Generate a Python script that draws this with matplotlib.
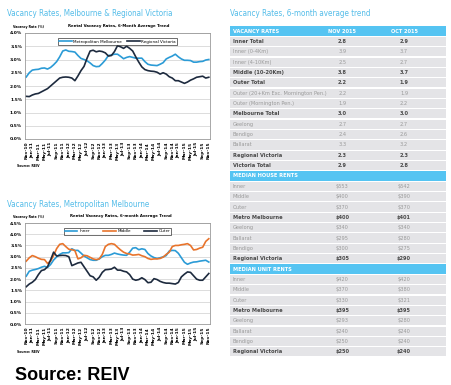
import numpy as np
import pandas as pd
import matplotlib.pyplot as plt
from matplotlib import font_manager as fm

W, H = 452, 385

# monthly points, Nov-10 .. Nov-15
months = pd.date_range('2010-11-01', periods=61, freq='MS')
month_labels = [m.strftime('%b-%y') for m in months]

metro = [2.34, 2.5, 2.6, 2.62, 2.63, 2.67, 2.68, 2.64, 2.7, 2.8,
         2.92, 3.1, 3.32, 3.36, 3.31, 3.3, 3.28, 3.15, 3.04, 3.0,
         2.95, 2.87, 2.77, 2.73, 2.74, 2.85, 2.98, 3.15, 3.17, 3.2,
         3.2, 3.12, 3.03, 3.08, 3.11, 3.08, 3.05, 3.05, 3.05, 2.92,
         2.82, 2.79, 2.78, 2.77, 2.82, 2.88, 3.02, 3.08, 3.13, 3.2,
         3.1, 3.02, 2.97, 2.97, 2.96, 2.9, 2.9, 2.92, 2.93, 2.98, 3.0]
regional = [1.61, 1.6, 1.66, 1.7, 1.72, 1.78, 1.84, 1.9, 2.0, 2.1,
            2.2, 2.3, 2.33, 2.34, 2.33, 2.3, 2.2, 2.38, 2.58, 2.74,
            3.05, 3.32, 3.35, 3.29, 3.32, 3.3, 3.25, 3.13, 3.15, 3.3,
            3.52, 3.48, 3.42, 3.5, 3.42, 3.32, 3.1, 2.9, 2.72, 2.62,
            2.58, 2.56, 2.55, 2.52, 2.45, 2.5, 2.45, 2.35, 2.3, 2.2,
            2.2, 2.15, 2.1, 2.15, 2.22, 2.27, 2.33, 2.35, 2.37, 2.3, 2.33]

inner = [2.13, 2.35, 2.4, 2.43, 2.47, 2.53, 2.57, 2.52, 2.65, 2.85,
         2.99, 3.1, 3.17, 3.17, 3.18, 3.35, 3.28, 3.28, 3.16, 3.03,
         2.95, 2.87, 2.84, 2.84, 2.9, 3.0, 3.06, 3.06, 3.1, 3.16,
         3.12, 3.09, 3.07, 3.06, 3.2, 3.38, 3.4, 3.31, 3.35, 3.32,
         3.14, 3.03, 2.96, 2.92, 2.95, 2.99, 3.05, 3.25, 3.28, 3.27,
         3.15, 2.95, 2.75, 2.66, 2.72, 2.76, 2.77, 2.8, 2.82, 2.84, 2.76]
middle = [2.8, 2.95, 3.05, 3.0, 2.93, 2.88, 2.87, 2.7, 2.8, 3.05,
          3.36, 3.55, 3.58, 3.45, 3.33, 3.31, 3.27, 2.9, 2.95, 3.06,
          3.04, 2.97, 2.9, 2.87, 2.9, 3.1, 3.45, 3.55, 3.58, 3.55,
          3.42, 3.3, 3.2, 3.14, 3.12, 3.07, 3.08, 3.1, 3.04, 3.0,
          2.92, 2.88, 2.9, 2.9, 2.92, 2.98, 3.1, 3.2, 3.45, 3.5,
          3.5, 3.53, 3.55, 3.58, 3.5, 3.3, 3.32, 3.38, 3.42, 3.68, 3.8]
outer = [1.66, 1.78, 1.86, 1.98, 2.2, 2.38, 2.42, 2.55, 2.85, 3.2,
         3.03, 3.05, 3.06, 3.05, 3.0, 2.6, 2.66, 2.72, 2.75, 2.55,
         2.35, 2.15, 2.1, 1.95, 2.08, 2.3, 2.42, 2.43, 2.45, 2.53,
         2.4, 2.4, 2.35, 2.32, 2.2, 2.0, 1.95, 1.98, 2.06, 1.98,
         1.84, 1.86, 2.02, 1.98, 1.9, 1.85, 1.82, 1.82, 1.8, 1.78,
         1.85, 2.1, 2.22, 2.32, 2.3, 2.15, 2.0, 1.95, 1.95, 2.1, 2.25]

# table on the right
rate_rows = ['Inner Total', 'Inner (0-4Km)', 'Inner (4-10Km)', 'Middle (10-20Km)',
             'Outer Total', 'Outer (20+Km Exc. Mornington Pen.)', 'Outer (Mornington Pen.)',
             'Melbourne Total', 'Geelong', 'Bendigo', 'Ballarat',
             'Regional Victoria', 'Victoria Total']
rate_nov = ['2.8', '3.9', '2.5', '3.8', '2.2', '2.2', '1.9', '3.0', '2.7', '2.4', '3.3', '2.3', '2.9']
rate_oct = ['2.9', '3.7', '2.7', '3.7', '1.9', '1.9', '2.2', '3.0', '2.7', '2.6', '3.2', '2.3', '2.8']
rate_bold = [1, 0, 0, 1, 1, 0, 0, 1, 0, 0, 0, 1, 1]

house_rows = ['Inner', 'Middle', 'Outer', 'Metro Melbourne', 'Geelong',
              'Ballarat', 'Bendigo', 'Regional Victoria']
house_nov = ['$553', '$400', '$370', '$400', '$340', '$295', '$300', '$305']
house_oct = ['$542', '$390', '$370', '$401', '$340', '$280', '$275', '$290']
house_bold = [0, 0, 0, 1, 0, 0, 0, 1]

unit_rows = ['Inner', 'Middle', 'Outer', 'Metro Melbourne', 'Geelong',
             'Ballarat', 'Bendigo', 'Regional Victoria']
unit_nov = ['$420', '$370', '$330', '$395', '$293', '$240', '$250', '$250']
unit_oct = ['$420', '$380', '$321', '$395', '$280', '$240', '$240', '$240']
unit_bold = [0, 0, 0, 1, 0, 0, 0, 1]

BLUE = '#2b9bd6'
NAVY = '#1d2a3e'
ORANGE = '#e8742c'
TITLE = '#55bde9'
HEAD = '#55c4f2'
ROWBG = '#e4e4e7'

# narrowest font we can find
fonts = {(f.name, str(f.stretch)) for f in fm.fontManager.ttflist}
if any(n == 'Liberation Sans Narrow' for n, s in fonts):
    NARROW = dict(family='Liberation Sans Narrow')
elif ('DejaVu Sans', 'condensed') in fonts:
    NARROW = dict(family='DejaVu Sans', fontstretch='condensed')
else:
    NARROW = dict(family='Roboto')

fig = plt.figure(figsize=(W / 100, H / 100), dpi=100)
renderer = fig.canvas.get_renderer()


def rect(x0, y0, x1, y1):
    return [x0 / W, 1 - y1 / H, (x1 - x0) / W, (y1 - y0) / H]


def ftext(x, y, s, **kw):
    return fig.text(x / W, 1 - y / H, s, **kw)


def fit_size(t, width_px):
    w = t.get_window_extent(renderer).width
    t.set_fontsize(t.get_fontsize() * width_px / w)
    return t.get_fontsize()


def draw_chart(ax, series, names, colors, ymax, colsp):
    x = np.arange(len(months))
    for s, n, c in zip(series, names, colors):
        ax.plot(x, s, color=c, lw=1.2, label=n)
    ax.set_xlim(-0.4, len(months) - 0.6)
    ax.set_ylim(0, ymax)
    ticks = np.arange(0, ymax + 0.01, 0.5)
    ax.set_yticks(ticks)
    ax.set_yticklabels([f'{v:.1f}%' for v in ticks], fontsize=3.2, fontweight='bold')
    ax.set_xticks(x[::2])
    ax.set_xticklabels(month_labels[::2], rotation=90, fontsize=3.2, fontweight='bold')
    ax.tick_params(length=0, pad=2)
    ax.grid(axis='y', color='#cfcfcf', lw=0.5)
    ax.set_axisbelow(True)
    for sp in ax.spines.values():
        sp.set_color('#9a9a9a')
        sp.set_linewidth(0.6)
    leg = ax.legend(loc='upper center', ncol=len(names), fontsize=3.0,
                    frameon=True, fancybox=False, edgecolor='black',
                    handlelength=3.0, columnspacing=colsp, borderpad=0.3,
                    handletextpad=0.4, bbox_to_anchor=(0.5, 0.97))
    leg.get_frame().set_linewidth(0.5)


# big section titles
t1 = ftext(7, 13, 'Vacancy Rates, Melbourne & Regional Victoria', color=TITLE,
           fontsize=8, va='center', **NARROW)
title_size = fit_size(t1, 167)
ftext(7, 205, 'Vacancy Rates, Metropolitan Melbourne', color=TITLE,
      fontsize=title_size, va='center', **NARROW)
ftext(230, 13, 'Vacancy Rates, 6-month average trend', color=TITLE,
      fontsize=title_size, va='center', **NARROW)

# chart 1
v1 = ftext(13, 27, 'Vacancy Rate (%)', fontsize=3.2, fontweight='bold', va='center')
small_size = fit_size(v1, 31)
c1 = ftext(119, 26, 'Rental Vacancy Rates, 6-Month Average Trend', fontsize=3.8,
           fontweight='bold', va='center', ha='center')
chart_title_size = fit_size(c1, 102)
ax1 = fig.add_axes(rect(25, 33, 210, 139))
draw_chart(ax1, [metro, regional], ['Metropolitan Melbourne', 'Regional Victoria'],
           [BLUE, NAVY], 4.0, 1.2)
ftext(17, 166, 'Source: REIV', fontsize=small_size, fontweight='bold', va='center')

# chart 2
ftext(13, 217, 'Vacancy Rate (%)', fontsize=small_size, fontweight='bold', va='center')
ftext(121, 216, 'Rental Vacancy Rates, 6-month Average Trend', fontsize=chart_title_size,
      fontweight='bold', va='center', ha='center')
ax2 = fig.add_axes(rect(25, 223, 210, 324))
draw_chart(ax2, [inner, middle, outer], ['Inner', 'Middle', 'Outer'],
           [BLUE, ORANGE, NAVY], 4.5, 3.2)
ftext(17, 352, 'Source: REIV', fontsize=small_size, fontweight='bold', va='center')

# table
sections = [('VACANCY RATES', rate_rows, rate_nov, rate_oct, rate_bold),
            ('MEDIAN HOUSE RENTS', house_rows, house_nov, house_oct, house_bold),
            ('MEDIAN UNIT RENTS', unit_rows, unit_nov, unit_oct, unit_bold)]
n_rows = sum(1 + len(s[1]) for s in sections)

axt = fig.add_axes(rect(230, 26, 446, 357))
axt.set_xlim(0, 1)
axt.set_ylim(n_rows, 0)
axt.axis('off')

probe = ftext(0, 0, 'Outer (20+Km Exc. Mornington Pen.)', fontsize=5, **NARROW)
cell_size = fit_size(probe, 96)
probe.remove()

col_nov, col_oct = 0.52, 0.806
r = 0
for k, (head, rows, nov, oct_, bold) in enumerate(sections):
    axt.barh(r + 0.5, 1, height=0.92, color=HEAD)
    axt.text(0.012, r + 0.5, head, color='white', fontsize=cell_size,
             fontweight='bold', va='center', **NARROW)
    if k == 0:
        for cx, lab in ((col_nov, 'NOV 2015'), (col_oct, 'OCT 2015')):
            axt.text(cx, r + 0.5, lab, color='white', fontsize=cell_size,
                     fontweight='bold', va='center', ha='center', **NARROW)
    r += 1
    for name, a, b, bo in zip(rows, nov, oct_, bold):
        axt.barh(r + 0.5, 1, height=0.88, color=ROWBG)
        c = '#4a4a4a' if bo else '#9a9a9a'
        w = 'bold' if bo else 'normal'
        axt.text(0.012, r + 0.5, name, color=c, fontsize=cell_size,
                 fontweight=w, va='center', **NARROW)
        axt.text(col_nov, r + 0.5, a, color=c, fontsize=cell_size,
                 fontweight=w, va='center', ha='center', **NARROW)
        axt.text(col_oct, r + 0.5, b, color=c, fontsize=cell_size,
                 fontweight=w, va='center', ha='center', **NARROW)
        r += 1

ftext(15, 376, 'Source: REIV', fontsize=13, fontweight='bold',
      family=['Liberation Sans', 'DejaVu Sans'], va='center')

fig.savefig('out.png', dpi=100, facecolor='white')
